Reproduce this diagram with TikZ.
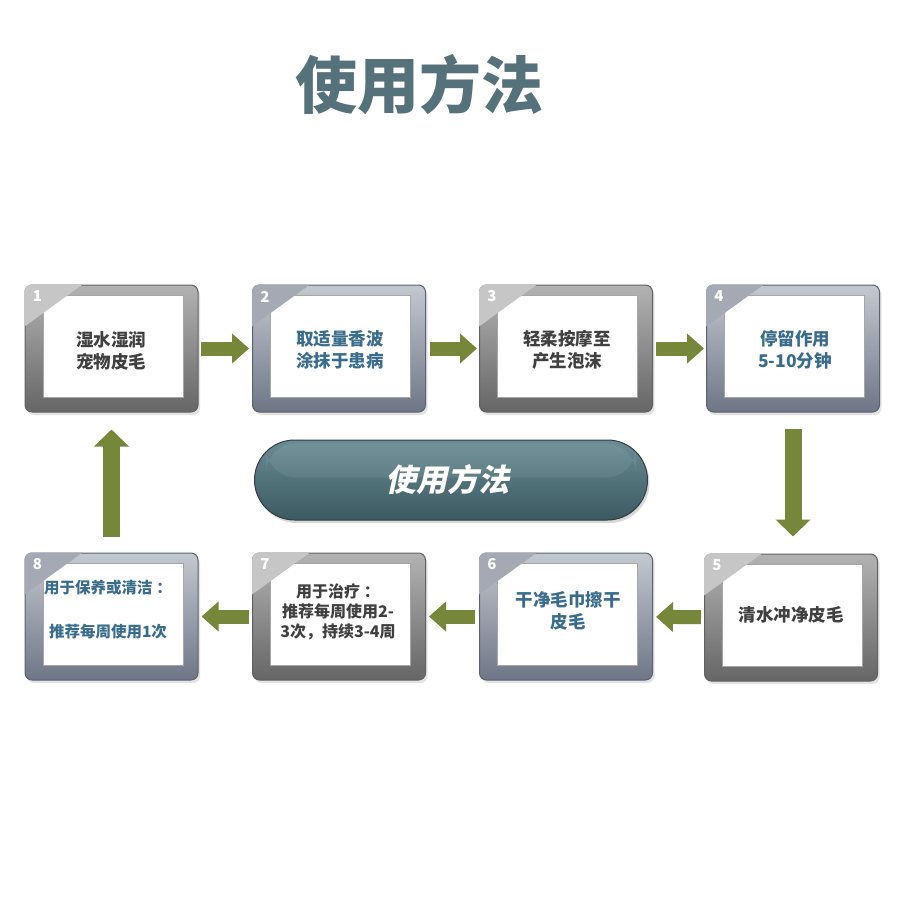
\documentclass[tikz,border=0pt]{standalone}
\usepackage{fontspec}
\setmainfont{Noto Sans CJK SC}
\newfontfamily\cjkit[FakeSlant=0.22]{Noto Sans CJK SC}
\usetikzlibrary{arrows.meta,shadows,calc}
\definecolor{olivea}{HTML}{76873A}
\definecolor{titlec}{HTML}{557179}
\definecolor{bluet}{HTML}{3A6C8C}
\definecolor{greyt}{HTML}{404040}
\definecolor{pilltop}{HTML}{6A8C94}
\definecolor{pillbot}{HTML}{3B5960}
\definecolor{HTMLD0D4DC}{HTML}{C4C8D0}
\definecolor{HTML6A7282}{HTML}{6E7686}
\definecolor{HTML5A6272}{HTML}{5A6272}
\definecolor{trig}{HTML}{C6C6C6}
\definecolor{trib}{HTML}{A4A9B3}
\tikzset{
  frameg/.style={rectangle, rounded corners=7pt, minimum width=173pt, minimum height=127pt,
    top color=black!30, bottom color=black!60, draw=black!62, line width=1pt,
    drop shadow={opacity=0.22, shadow xshift=2pt, shadow yshift=-3pt}},
  frameb/.style={rectangle, rounded corners=7pt, minimum width=173pt, minimum height=127pt,
    top color=HTMLD0D4DC, bottom color=HTML6A7282, draw=HTML5A6272, line width=1pt,
    drop shadow={opacity=0.22, shadow xshift=2pt, shadow yshift=-3pt}},
  inner/.style={rectangle, fill=white, draw=black!35, line width=0.6pt,
    minimum width=140pt, minimum height=102pt, inner sep=0pt},
  numst/.style={text=white, font=\bfseries\fontsize{15}{15}\selectfont, inner sep=0pt},
  txtg/.style={text=greyt, align=center, font=\bfseries\fontsize{17.5}{22}\selectfont, inner sep=0pt},
  txtb/.style={text=bluet, align=center, font=\bfseries\fontsize{17.5}{22}\selectfont, inner sep=0pt},
  conn/.style={draw=olivea, line width=14pt, -{Triangle[width=29pt,length=17pt]}},
  connv/.style={draw=olivea, line width=17pt, -{Triangle[width=34pt,length=17pt]}},
}
\newcommand{\mkbox}[6]{%
  \node[#4] (#1) at (#2,#3) {};
  \node[inner] (#1i) at ($(#1)+(1.5,-2)$) {};
  \begin{scope}
    \clip[rounded corners=7pt] (#1.north west) rectangle (#1.south east);
    \fill[#5] (#1.north west) -- ++(58,0) -- ($(#1.north west)+(0,42)$) -- cycle;
  \end{scope}
  \node[numst] (#1n) at ($(#1.north west)+(13,12)$) {#6};
}
\begin{document}
\begin{tikzpicture}[x=1pt,y=-1pt]
\useasboundingbox[fill=white] (0,0) rectangle (900,900);

\node[text=titlec, font=\bfseries\fontsize{62}{62}\selectfont, inner sep=0pt] (title) at (419,85) {使用方法};

\mkbox{b1}{111.5}{348.5}{frameg}{trig}{1}
\mkbox{b2}{339}{348.5}{frameb}{trib}{2}
\mkbox{b3}{566}{348.5}{frameg}{trig}{3}
\mkbox{b4}{793}{348.5}{frameb}{trib}{4}
\mkbox{b5}{791}{617.5}{frameg}{trig}{5}
\mkbox{b6}{566}{616.5}{frameb}{trib}{6}
\mkbox{b7}{339}{616.5}{frameg}{trig}{7}
\mkbox{b8}{111.5}{616.5}{frameb}{trib}{8}

\node[txtg] (t1) at (111,351) {湿水湿润\\宠物皮毛};
\node[txtb] (t2) at (340,350) {取适量香波\\涂抹于患病};
\node[txtg] (t3) at (567,350) {轻柔按摩至\\产生泡沫};
\node[txtb] (t4) at (795,350) {停留作用\\5-10分钟};
\node[txtg] (t5) at (791,615) {清水冲净皮毛};
\node[txtb] (t6) at (568,611) {干净毛巾擦干\\皮毛};
\node[txtg, font=\bfseries\fontsize{16}{20}\selectfont] (t7) at (338,612) {用于治疗 ：\\推荐每周使用2-\\3次，持续3-4周};
\node[txtb, font=\bfseries\fontsize{15.5}{44}\selectfont] (t8) at (108,610) {用于保养或清洁 ：\\推荐每周使用1次};

\draw[conn, shorten <=2pt, shorten >=3pt] (b1) -- (b2);
\draw[conn, shorten <=4pt, shorten >=2pt] (b2) -- (b3);
\draw[conn, shorten <=3pt, shorten >=2pt] (b3) -- (b4);
\draw[connv, shorten <=16pt, shorten >=17pt] (b4.south) -- (b4.south |- b5.north);
\draw[conn, shorten <=3pt, shorten >=3pt] (b5) -- (b6);
\draw[conn, shorten <=4pt, shorten >=3pt] (b6) -- (b7);
\draw[conn, shorten <=3pt, shorten >=3pt] (b7) -- (b8);
\draw[connv, shorten <=16pt, shorten >=17pt] (b8.north) -- (b1.south);

\node[rectangle, rounded corners=40pt, minimum width=393pt, minimum height=80pt,
  top color=pilltop, bottom color=pillbot, draw=HTML5A6272!60!black, line width=1pt,
  drop shadow={opacity=0.3, shadow xshift=2pt, shadow yshift=-3pt}] (pill) at (451,480) {};
\fill[white, opacity=0.07, rounded corners=30pt] ($(pill.north west)+(12,4)$) rectangle ($(pill.north east)+(-12,38)$);
\node[text=white, font=\cjkit\bfseries\fontsize{31}{31}\selectfont, inner sep=0pt] (pillt) at (447,480) {使用方法};
\end{tikzpicture}
\end{document}
